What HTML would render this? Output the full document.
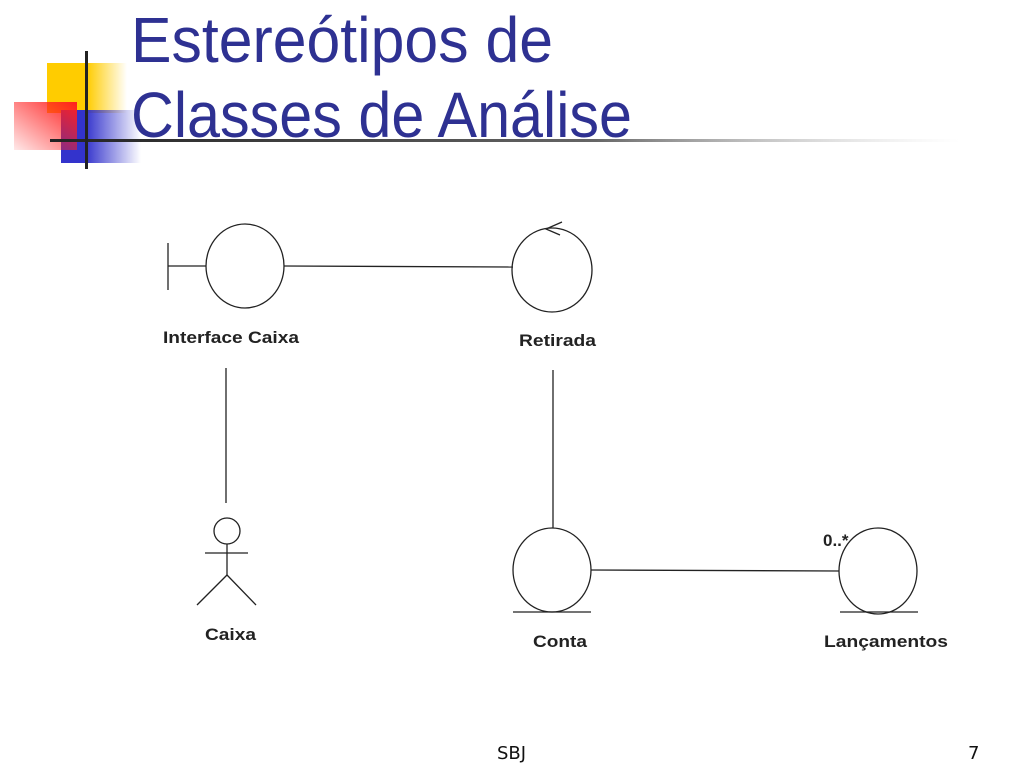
<!DOCTYPE html>
<html><head><meta charset="utf-8"><style>
html,body{margin:0;padding:0;background:#fff;}
svg{display:block;}
</style></head><body>
<svg width="1024" height="768" viewBox="0 0 1024 768" xmlns="http://www.w3.org/2000/svg" font-family="Liberation Sans, sans-serif">
<defs>
<linearGradient id="gy" x1="0" x2="1"><stop offset="0.5" stop-color="#ffcc00"/><stop offset="1" stop-color="#ffcc00" stop-opacity="0"/></linearGradient>
<linearGradient id="gb" x1="0" x2="1"><stop offset="0.3" stop-color="#3333cc"/><stop offset="1" stop-color="#3333cc" stop-opacity="0"/></linearGradient>
<linearGradient id="gr" x1="1" y1="0" x2="0" y2="1"><stop offset="0" stop-color="#ff2020"/><stop offset="1" stop-color="#ff2020" stop-opacity="0.1"/></linearGradient>
<linearGradient id="gl" x1="0" x2="1"><stop offset="0" stop-color="#222"/><stop offset="0.6" stop-color="#666"/><stop offset="1" stop-color="#ccc" stop-opacity="0"/></linearGradient>
</defs>
<rect x="47" y="63" width="80" height="50" fill="url(#gy)"/>
<rect x="61" y="110" width="80" height="53" fill="url(#gb)"/>
<rect x="14" y="102" width="63" height="48" fill="url(#gr)"/>
<rect x="50" y="139" width="910" height="3" fill="url(#gl)"/>
<rect x="85" y="51" width="3" height="118" fill="#222"/>
<text x="131" y="62" font-size="64" fill="#2e3192" textLength="422" lengthAdjust="spacingAndGlyphs">Estereótipos de</text>
<text x="131" y="137" font-size="64" fill="#2e3192" textLength="501" lengthAdjust="spacingAndGlyphs">Classes de Análise</text>
<g stroke="#222" stroke-width="1.3" fill="none">
<line x1="168" y1="243" x2="168" y2="290"/>
<line x1="168" y1="266" x2="206" y2="266"/>
<ellipse cx="245" cy="266" rx="39" ry="42"/>
<line x1="284" y1="266" x2="513" y2="267"/>
<ellipse cx="552" cy="270" rx="40" ry="42"/>
<path d="M562 222 L546 229 L560 235"/>
<line x1="226" y1="368" x2="226" y2="503"/>
<line x1="553" y1="370" x2="553" y2="528"/>
<circle cx="227" cy="531" r="13"/>
<line x1="227" y1="544" x2="227" y2="575"/>
<line x1="205" y1="553" x2="248" y2="553"/>
<line x1="227" y1="575" x2="197" y2="605"/>
<line x1="227" y1="575" x2="256" y2="605"/>
<ellipse cx="552" cy="570" rx="39" ry="42"/>
<line x1="513" y1="612" x2="591" y2="612"/>
<line x1="591" y1="570" x2="839" y2="571"/>
<ellipse cx="878" cy="571" rx="39" ry="43"/>
<line x1="840" y1="612" x2="918" y2="612"/>
</g>
<g font-size="17" font-weight="bold" fill="#222">
<text x="163" y="343" textLength="136" lengthAdjust="spacingAndGlyphs">Interface Caixa</text>
<text x="519" y="346" textLength="77" lengthAdjust="spacingAndGlyphs">Retirada</text>
<text x="205" y="640" textLength="51" lengthAdjust="spacingAndGlyphs">Caixa</text>
<text x="533" y="647" textLength="54" lengthAdjust="spacingAndGlyphs">Conta</text>
<text x="824" y="647" textLength="124" lengthAdjust="spacingAndGlyphs">Lançamentos</text>
<text x="823" y="546">0..*</text>
</g>
<text x="497" y="759" font-size="18" fill="#111" font-family="DejaVu Sans, sans-serif">SBJ</text>
<text x="968" y="759" font-size="18" fill="#111" font-family="DejaVu Sans, sans-serif">7</text>
</svg>
</body></html>
